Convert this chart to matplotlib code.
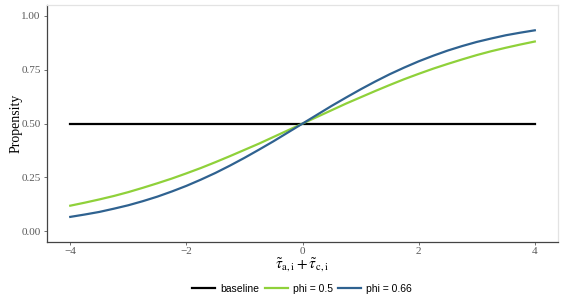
import matplotlib
matplotlib.use('Agg')
import matplotlib.pyplot as plt

# values
x = [-4, -3.75, -3.5, -3.25, -3, -2.75, -2.5, -2.25, -2, -1.75, -1.5, -1.25, -1, -0.75, -0.5, -0.25,
     0, 0.25, 0.5, 0.75, 1, 1.25, 1.5, 1.75, 2, 2.25, 2.5, 2.75, 3, 3.25, 3.5, 3.75, 4]
baseline = [0.5] * len(x)
phi_05 = [0.119, 0.133, 0.148, 0.164, 0.182, 0.202, 0.223, 0.245, 0.269, 0.294, 0.321, 0.349,
          0.378, 0.407, 0.438, 0.469, 0.5, 0.531, 0.562, 0.593, 0.622, 0.651, 0.679, 0.706,
          0.731, 0.755, 0.777, 0.798, 0.818, 0.836, 0.852, 0.867, 0.881]
phi_066 = [0.067, 0.078, 0.090, 0.105, 0.121, 0.140, 0.161, 0.185, 0.211, 0.240, 0.271, 0.305,
           0.341, 0.379, 0.418, 0.459, 0.5, 0.541, 0.582, 0.621, 0.659, 0.695, 0.729, 0.760,
           0.789, 0.815, 0.839, 0.860, 0.879, 0.895, 0.910, 0.922, 0.933]

xticks = [-4, -2, 0, 2, 4]
yticks = [0.0, 0.25, 0.5, 0.75, 1.0]
ytick_labels = ['0.00', '0.25', '0.50', '0.75', '1.00']

plt.rcParams['font.family'] = 'Liberation Serif'
plt.rcParams['mathtext.fontset'] = 'stix'

fig = plt.figure(figsize=(5.7, 3.0), dpi=100)
ax = fig.add_axes([0.0825, 0.193, 0.8965, 0.79])

ax.plot(x, baseline, color='black', lw=1.6, label='baseline')
ax.plot(x, phi_05, color='#8fd13a', lw=1.6, label='phi = 0.5')
ax.plot(x, phi_066, color='#2f6290', lw=1.6, label='phi = 0.66')

ax.set_xlim(-4.4, 4.4)
ax.set_ylim(-0.05, 1.05)
ax.set_xticks(xticks)
ax.set_xticklabels(['\u22124', '\u22122', '0', '2', '4'])
ax.set_yticks(yticks)
ax.set_yticklabels(ytick_labels)
ax.tick_params(labelsize=8, colors='#5a5a5a', length=2.5, width=0.6, pad=2)
ax.tick_params(axis='x', pad=1)

for s in ['left', 'bottom']:
    ax.spines[s].set_color('#444444')
    ax.spines[s].set_linewidth(0.9)
for s in ['top', 'right']:
    ax.spines[s].set_color('#e3e3e3')
    ax.spines[s].set_linewidth(0.9)

ax.set_ylabel('Propensity', fontsize=10)
ax.yaxis.set_label_coords(-0.048, 0.5)
ax.set_xlabel(r'$\tilde{\tau}_{\mathrm{a,i}}+\tilde{\tau}_{\mathrm{c,i}}$', fontsize=11)
ax.xaxis.set_label_coords(0.5, -0.062)

leg = fig.legend(loc='lower center', bbox_to_anchor=(0.53, -0.01), ncol=3, frameon=False,
                 prop={'family': 'Liberation Sans', 'size': 7.5}, handlelength=2.2,
                 columnspacing=0.5, handletextpad=0.5)

fig.savefig('out.png', dpi=100)
